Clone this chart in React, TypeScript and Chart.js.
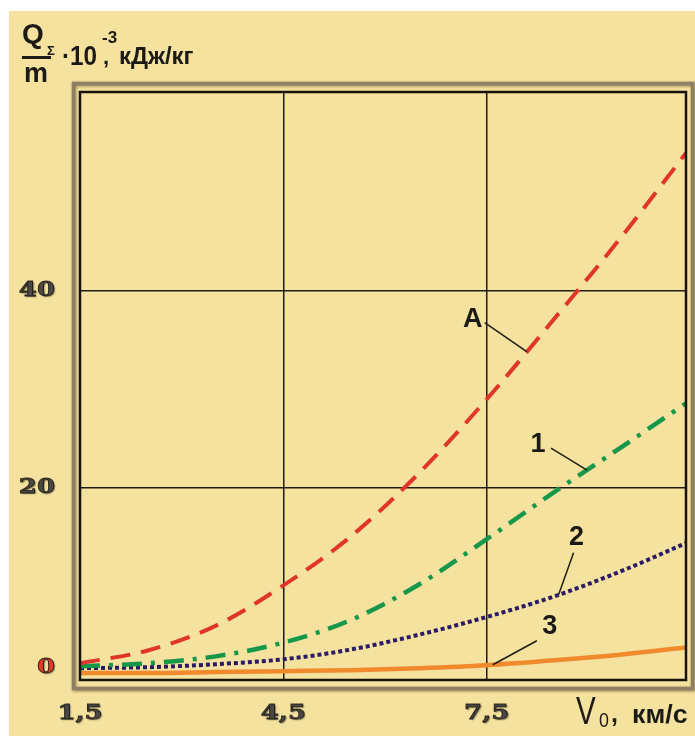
import { useEffect, useRef } from "react";
import { Chart, registerables } from "chart.js";

Chart.register(...registerables);

// Flow speed V0, km/s
const speeds = [1.5, 2.5, 3.5, 4.5, 5.5, 6.5, 7.5, 8.5, 9.5, 10.44];
// Specific heat Q/m ·10^-3, kJ/kg
const heatA = [2.2, 3.5, 6.0, 10.1, 15.1, 21.5, 29.0, 37.2, 45.6, 54.0];
const heat1 = [1.9, 2.2, 2.9, 4.3, 6.6, 10.2, 14.8, 19.6, 24.2, 28.6];
const heat2 = [1.7, 1.8, 2.1, 2.6, 3.6, 5.1, 6.9, 9.0, 11.6, 14.4];
const heat3 = [1.2, 1.2, 1.3, 1.4, 1.5, 1.7, 2.0, 2.5, 3.1, 3.8];

const xTicks = [1.5, 4.5, 7.5];
const xTickLabels = ["1,5", "4,5", "7,5"];
const yTicks = [0, 20, 40];
const yTickLabels = ["0", "20", "40"];

const curveNames = ["A", "1", "2", "3"];
const labelSpeeds = [8.09, 8.98, 8.56, 7.59];

const SERIES = [heatA, heat1, heat2, heat3];

// where each curve name sits relative to its pointer tip (px)
const CALLOUTS = [
  { text: [-54, -32], line: [-42, -29] },
  { text: [-49, -26], line: [-36, -22] },
  { text: [18, -57], line: [15, -42] },
  { text: [57, -38], line: [44, -24] },
];

const SANS = '"Liberation Sans", Arial, sans-serif';

function valueAt(series: number[], v: number) {
  for (let i = 0; i < speeds.length - 1; i++) {
    if (v >= speeds[i] && v <= speeds[i + 1]) {
      const t = (v - speeds[i]) / (speeds[i + 1] - speeds[i]);
      return series[i] + t * (series[i + 1] - series[i]);
    }
  }
  return series[series.length - 1];
}

function embossed(
  ctx: CanvasRenderingContext2D,
  text: string,
  x: number,
  y: number,
  color: string,
  align: CanvasTextAlign
) {
  ctx.save();
  ctx.translate(x, y);
  ctx.scale(1.3, 1);
  ctx.font = 'bold 20px "DejaVu Serif"';
  ctx.textAlign = align;
  ctx.textBaseline = "middle";
  ctx.shadowColor = "rgba(0,0,0,0.55)";
  ctx.shadowBlur = 1.5;
  ctx.shadowOffsetX = 1.2;
  ctx.shadowOffsetY = 1.2;
  ctx.fillStyle = color;
  ctx.fillText(text, 0, 0);
  ctx.shadowColor = "transparent";
  ctx.lineWidth = 0.8;
  ctx.strokeStyle = "rgba(25,20,15,0.85)";
  ctx.strokeText(text, 0, 0);
  ctx.restore();
}

function txt(
  ctx: CanvasRenderingContext2D,
  text: string,
  x: number,
  y: number,
  font: string,
  sx = 1
) {
  ctx.save();
  ctx.translate(x, y);
  ctx.scale(sx, 1);
  ctx.font = font;
  ctx.fillStyle = "#1c1a16";
  ctx.textAlign = "left";
  ctx.textBaseline = "alphabetic";
  ctx.fillText(text, 0, 0);
  ctx.restore();
}

const decor = {
  id: "decor",
  afterDraw(chart: any) {
    const { ctx, chartArea: a, scales } = chart;
    const xs = scales.x;
    const ys = scales.y;

    // outer raised frame
    ctx.save();
    ctx.strokeStyle = "#8c7f63";
    ctx.lineWidth = 3.5;
    ctx.shadowColor = "rgba(70,55,25,0.6)";
    ctx.shadowBlur = 3;
    ctx.shadowOffsetX = 1;
    ctx.shadowOffsetY = 1;
    ctx.strokeRect(a.left - 6.5, a.top - 8.5, a.right - a.left + 13, a.bottom - a.top + 17);
    ctx.restore();

    // plot frame
    ctx.save();
    ctx.strokeStyle = "#17130a";
    ctx.lineWidth = 2.5;
    ctx.strokeRect(a.left, a.top, a.right - a.left, a.bottom - a.top);
    ctx.restore();

    // curve call-outs
    ctx.save();
    curveNames.forEach((name, i) => {
      const v = labelSpeeds[i];
      const px = xs.getPixelForValue(v);
      const py = ys.getPixelForValue(valueAt(SERIES[i], v));
      const c = CALLOUTS[i];
      ctx.strokeStyle = "#1f1c16";
      ctx.lineWidth = 1.5;
      ctx.beginPath();
      ctx.moveTo(px + c.line[0], py + c.line[1]);
      ctx.lineTo(px, py);
      ctx.stroke();
      ctx.font = `bold 27px ${SANS}`;
      ctx.fillStyle = "#1c1a16";
      ctx.textAlign = "center";
      ctx.textBaseline = "middle";
      ctx.fillText(name, px + c.text[0], py + c.text[1]);
    });
    ctx.restore();

    // tick labels
    yTicks.forEach((v, i) => {
      const py = Math.min(ys.getPixelForValue(v), a.bottom - 12);
      embossed(ctx, yTickLabels[i], 46, py, v === 0 ? "#e23a2a" : "#4a4844", "right");
    });
    xTicks.forEach((v, i) => {
      embossed(ctx, xTickLabels[i], xs.getPixelForValue(v), 703, "#4a4844", "center");
    });

    // vertical axis title: Q_Σ / m · 10^-3, кДж/кг
    txt(ctx, "Q", 13, 32, `bold 28px ${SANS}`);
    txt(ctx, "Σ", 38, 44, `bold 13px ${SANS}`);
    ctx.save();
    ctx.fillStyle = "#1c1a16";
    ctx.fillRect(13, 45, 29, 3);
    ctx.restore();
    txt(ctx, "m", 15, 71, `bold 27px ${SANS}`);
    txt(ctx, "·10", 53, 54, `bold 27px ${SANS}`, 0.9);
    txt(ctx, "-3", 93, 32, `bold 17px ${SANS}`);
    txt(ctx, ",", 94, 53, `bold 22px ${SANS}`);
    txt(ctx, "кДж/кг", 110, 53, `bold 23px ${SANS}`, 1.04);

    // horizontal axis title: V0, км/с
    txt(ctx, "V", 567, 713, `38px ${SANS}`, 0.78);
    txt(ctx, "0", 590, 716, `21px ${SANS}`, 0.85);
    txt(ctx, ",", 602, 711, `bold 25px ${SANS}`);
    txt(ctx, "км/с", 623, 712, `bold 26px ${SANS}`, 1.03);
  },
};

export default function App() {
  const canvasRef = useRef<HTMLCanvasElement | null>(null);

  useEffect(() => {
    const canvas = canvasRef.current;
    if (!canvas) return;

    const mk = (ys: number[]) => speeds.map((x, i) => ({ x, y: ys[i] }));

    const chart = new Chart(canvas, {
      type: "line",
      data: {
        datasets: [
          {
            label: "A",
            data: mk(heatA),
            borderColor: "#e0352a",
            borderWidth: 4,
            borderDash: [20, 11],
          },
          {
            label: "1",
            data: mk(heat1),
            borderColor: "#17974a",
            borderWidth: 4.5,
            borderDash: [20, 9, 4, 9],
          },
          {
            label: "2",
            data: mk(heat2),
            borderColor: "#2b1a66",
            borderWidth: 4,
            borderDash: [4, 3],
          },
          {
            label: "3",
            data: mk(heat3),
            borderColor: "#f08a2c",
            borderWidth: 4.5,
          },
        ],
      },
      options: {
        animation: false,
        responsive: true,
        maintainAspectRatio: false,
        layout: { padding: { left: 0, top: 81, right: 9, bottom: 0 } },
        elements: {
          point: { radius: 0 },
          line: { cubicInterpolationMode: "monotone", fill: false },
        },
        plugins: {
          legend: { display: false },
          tooltip: { enabled: false },
          title: { display: false },
        },
        scales: {
          x: {
            type: "linear",
            min: 1.5,
            max: 10.44,
            afterBuildTicks: (s: any) => {
              s.ticks = xTicks.filter((v) => v > s.min).map((value) => ({ value }));
            },
            afterFit: (s: any) => {
              s.height = 56;
            },
            ticks: { display: false },
            border: { display: false },
            grid: { color: "#221d14", lineWidth: 1.5, drawTicks: false },
          },
          y: {
            type: "linear",
            min: 0.5,
            max: 60.2,
            afterBuildTicks: (s: any) => {
              s.ticks = yTicks.filter((v) => v > s.min).map((value) => ({ value }));
            },
            afterFit: (s: any) => {
              s.width = 71;
            },
            ticks: { display: false },
            border: { display: false },
            grid: { color: "#221d14", lineWidth: 1.5, drawTicks: false },
          },
        },
      },
      plugins: [decor],
    });

    return () => chart.destroy();
  }, []);

  return (
    <div
      style={{
        position: "fixed",
        left: 9,
        top: 11,
        width: 686,
        height: 725,
        background: "#f5e29e",
      }}
    >
      <canvas ref={canvasRef} />
    </div>
  );
}
